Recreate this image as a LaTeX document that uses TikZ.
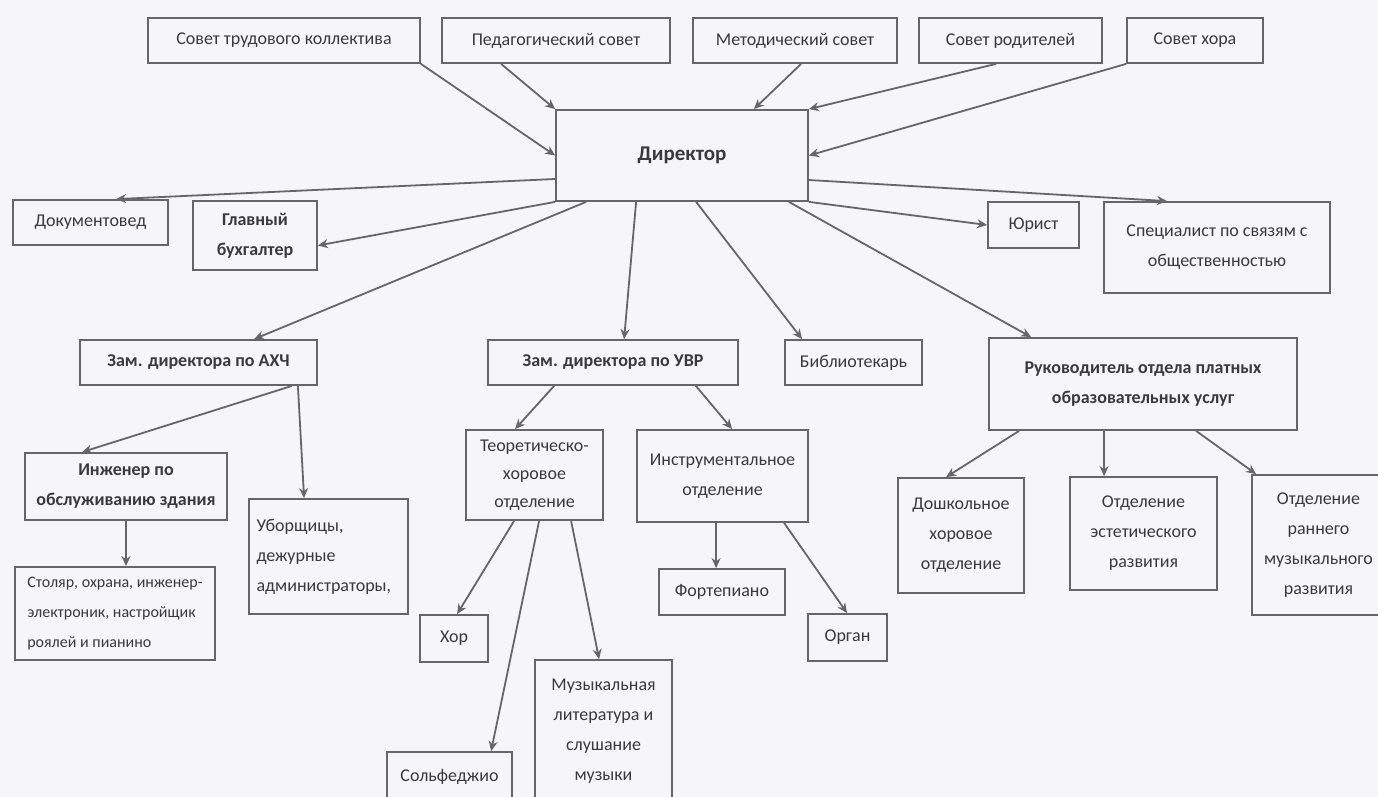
\documentclass[tikz,border=0pt]{standalone}
\usepackage{fontspec}
\setmainfont{Carlito}
\usetikzlibrary{arrows.meta}
\definecolor{linegrey}{HTML}{666666}
\definecolor{textgrey}{HTML}{3A3A3A}
\definecolor{paper}{HTML}{F6F6F9}

\begin{document}
\begin{tikzpicture}[x=.5pt,y=-.5pt,
    box/.style={draw=linegrey,line width=.9pt,inner sep=2pt,align=center,
      text=textgrey,font=\fontsize{9}{15}\selectfont},
    wh/.style 2 args={minimum width=#1pt,minimum height=#2pt},
    boss/.style={box,font=\fontsize{9}{15}\selectfont\bfseries},
    link/.style={draw=linegrey,line width=.9pt,-{Stealth[length=5pt,width=4.5pt]}}]
    \fill[paper] (0,0) rectangle (1378,797);
    \useasboundingbox (0,0) rectangle (1378,797);
    % councils
    \node[box,wh={136}{22.5}] (trud) at (284,40.5) {Совет трудового коллектива};
    \node[box,wh={114}{22.5}] (ped) at (556,40.5) {Педагогический совет};
    \node[box,wh={102}{22.5}] (met) at (795,40.5) {Методический совет};
    \node[box,wh={91.5}{22.5}] (rod) at (1010.5,40.5) {Совет родителей};
    \node[box,wh={68}{22.5}] (shor) at (1195,40.5) {Совет хора};
    \node[box,wh={126}{45.5},font=\fontsize{10.5}{15}\selectfont\bfseries] (dir) at (682,155.5) {Директор};
    % staff
    \node[box,wh={77.5}{22.5}] (doc) at (90.5,222.5) {Документовед};
    \node[boss,wh={62}{34.5}] (buh) at (255,235.5) {Главный\\бухгалтер};
    \node[box,wh={45.5}{23}] (jur) at (1033.5,225) {Юрист};
    \node[box,wh={113}{45.5}] (spec) at (1217,247.5) {Специалист по связям с\\общественностью};
    \node[boss,wh={118.5}{22.5}] (ahch) at (198.5,362.5) {Зам. директора по АХЧ};
    \node[boss,wh={125}{22.5}] (uvr) at (613,362.5) {Зам. директора по УВР};
    \node[box,wh={68.5}{22.5}] (bib) at (853.5,362.5) {Библиотекарь};
    \node[boss,wh={154}{46}] (ruk) at (1143,384) {Руководитель отдела платных\\образовательных услуг};
    % departments
    \node[boss,wh={101}{33.5}] (ing) at (126,486.5) {Инженер по\\обслуживанию здания};
    \node[box,wh={79.5}{57.5},text width=72pt,align=left] (ubo) at (328.5,556.5) {Уборщицы,\\дежурные\\администраторы,};
    \node[box,wh={100}{46.5},align=left,font=\fontsize{8}{15}\selectfont] (sto) at (115,613.5) {Столяр, охрана, инженер-\\электроник, настройщик\\роялей и пианино};
    \node[box,wh={68.5}{45},font=\fontsize{9}{14}\selectfont] (teo) at (534.5,475) {Теоретическо-\\хоровое\\отделение};
    \node[box,wh={85.5}{46}] (ins) at (722.5,476) {Инструментальное\\отделение};
    \node[box,wh={34}{23.5}] (xor) at (454,638.5) {Хор};
    \node[box,wh={62.5}{25}] (sol) at (449.5,777) {Сольфеджио};
    \node[box,wh={68.5}{71}] (mus) at (603.5,731) {Музыкальная\\литература и\\слушание\\музыки};
    \node[box,wh={63}{23}] (fort) at (722,592) {Фортепиано};
    \node[box,wh={39.5}{23.5}] (org) at (847.5,637.5) {Орган};
    \node[box,wh={63}{57.5}] (dosh) at (961,535.5) {Дошкольное\\хоровое\\отделение};
    \node[box,wh={73.5}{56.5}] (est) at (1143.5,533.5) {Отделение\\эстетического\\развития};
    \node[box,wh={66.5}{70}] (ran) at (1318.5,545) {Отделение\\раннего\\музыкального\\развития};
    % arrows into the director
    \draw[link] (trud.south east) -- (dir.west);
    \draw[link] ([xshift=30pt]ped.south west) -- (dir.north west);
    \draw[link] ([xshift=54.5pt]met.south west) -- ([xshift=-27.5pt]dir.north east);
    \draw[link] ([xshift=39pt]rod.south west) -- (dir.north east);
    \draw[link] (shor.south west) -- (dir.east);
    % arrows from the director
    \draw[link] ([yshift=-11.75pt]dir.west) -- ([xshift=52pt]doc.north west);
    \draw[link] (dir.south west) -- ([yshift=-5pt]buh.east);
    \draw[link] ([xshift=15.5pt]dir.south west) -- ([xshift=87.5pt]ahch.north west);
    \draw[link] ([xshift=40.5pt]dir.south west) -- ([xshift=68.5pt]uvr.north west);
    \draw[link] ([xshift=70.5pt]dir.south west) -- ([xshift=9pt]bib.north west);
    \draw[link] ([xshift=-10pt]dir.south east) -- ([xshift=21.5pt]ruk.north west);
    \draw[link] (dir.south east) -- (jur.west);
    \draw[link] ([yshift=-12.25pt]dir.east) -- ([xshift=32pt]spec.north west);
    % lower levels
    \draw[link] ([xshift=-13pt]ahch.south east) -- ([xshift=29pt]ing.north west);
    \draw[link] ([xshift=-10pt]ahch.south east) -- ([xshift=28pt]ubo.north west);
    \draw[link] (ing.south) -- ([xshift=5.5pt]sto.north);
    \draw[link] ([xshift=33.5pt]uvr.south west) -- ([xshift=25pt]teo.north west);
    \draw[link] ([xshift=-21.5pt]uvr.south east) -- ([xshift=48pt]ins.north west);
    \draw[link] ([xshift=24.5pt]teo.south west) -- ([xshift=19pt]xor.north west);
    \draw[link] ([xshift=37pt]teo.south west) -- ([xshift=52.5pt]sol.north west);
    \draw[link] ([xshift=53pt]teo.south west) -- ([xshift=32.5pt]mus.north west);
    \draw[link] ([xshift=40pt]ins.south west) -- ([xshift=29pt]fort.north west);
    \draw[link] ([xshift=74pt]ins.south west) -- ([xshift=20pt]org.north west);
    \draw[link] ([xshift=15.5pt]ruk.south west) -- ([xshift=24.5pt]dosh.north west);
    \draw[link] ([xshift=58pt]ruk.south west) -- ([xshift=17.5pt]est.north west);
    \draw[link] ([xshift=104pt]ruk.south west) -- ([xshift=2.5pt]ran.north west);
  \end{tikzpicture}
\end{document}
